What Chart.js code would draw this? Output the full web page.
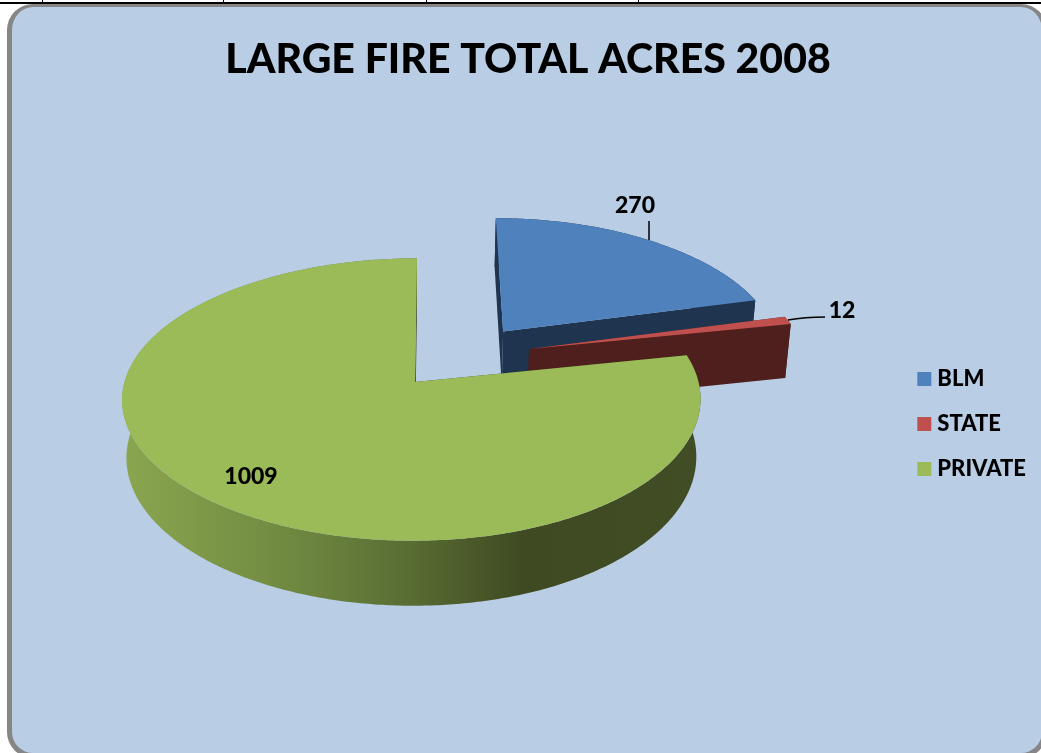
<!DOCTYPE html>
<html>
<head>
<meta charset="utf-8">
<title>Large fire total acres 2008</title>
<script src="https://cdn.jsdelivr.net/npm/chart.js@4"></script>
<style>
  html, body { margin: 0; padding: 0; background: #fff; overflow: hidden; }
  #rule { position: absolute; left: 0; top: 2px; width: 1041px; height: 2px; background: #000; }
  .tick { position: absolute; top: 0; width: 1px; height: 3px; background: #000; }
  #card {
    position: absolute; left: 7px; top: 4px; width: 1040px; height: 754px; box-sizing: border-box;
    background: #b9cde5; border: solid #868686; border-width: 3px 5px 5px 5px; border-radius: 26px;
  }
  #wrap { position: absolute; left: 0; top: 0; width: 1041px; height: 753px; }
</style>
</head>
<body>
<div id="rule"></div>
<div class="tick" style="left:42px"></div>
<div class="tick" style="left:223px"></div>
<div class="tick" style="left:426px"></div>
<div class="tick" style="left:638px"></div>
<div id="card"></div>
<div id="wrap"><canvas id="pie" width="1041" height="753"></canvas></div>
<script>
const categories = ['BLM', 'STATE', 'PRIVATE'];
const acres = [270, 12, 1009];
const topColors = ['#4f81bd', '#c0504d', '#9bbb59'];
const wallColors = ['#1f344f', '#4f1f1e', '#3f4a22'];

// how far each slice is pulled out, in pie radii (right, back)
const explode = [[0.32, 0.38], [0.41, 0.244], [0, 0]];

// tilted view of the pie
const cam = { cx: 415, cy: 382, rx: 287, ry: 139, k: 0.124, skew: 3.5, lean: 2, depth: 57, shrink: 0.015 };

function project(u, v, z) {
    const w = 1 + cam.k * v;
    const x = cam.cx + cam.rx * u / w - cam.skew * Math.min(u * u, 1) + cam.lean * v;
    const y = cam.cy - cam.ry * v / w + cam.depth * z / w;
    return [cam.cx + (x - cam.cx) / (1 + cam.shrink * z), y];
}

function rimPoints(arc, i, z) {
    const [du, dv] = explode[i];
    const pts = [];
    const steps = Math.max(2, Math.ceil((arc.endAngle - arc.startAngle) * 90));
    for (let s = 0; s <= steps; s++) {
        // chart.js angles start at 3 o'clock, rotate so 0 is the top of the pie
        const a = arc.startAngle + (arc.endAngle - arc.startAngle) * s / steps + Math.PI / 2;
        pts.push(project(du + Math.sin(a), dv + Math.cos(a), z));
    }
    return pts;
}

function fillPoly(ctx, pts, fill) {
    ctx.beginPath();
    pts.forEach((p, n) => n ? ctx.lineTo(p[0], p[1]) : ctx.moveTo(p[0], p[1]));
    ctx.closePath();
    ctx.fillStyle = fill;
    ctx.fill();
}

function greenWall(ctx) {
    const g = ctx.createLinearGradient(122, 0, 701, 0);
    g.addColorStop(0, '#8ba650');
    g.addColorStop(0.3, '#6f8840');
    g.addColorStop(0.5, '#586c33');
    g.addColorStop(0.69, '#3f4a22');
    g.addColorStop(1, '#414d25');
    return g;
}

const pie3d = {
    id: 'pie3d',
    beforeDatasetDraw(chart, args) {
        const ctx = chart.ctx;
        const arcs = chart.getDatasetMeta(args.index).data;
        arcs.forEach((arc, i) => {
            const [du, dv] = explode[i];
            const top = rimPoints(arc, i, 0);
            const low = rimPoints(arc, i, 1);
            const wall = i === 2 ? greenWall(ctx) : wallColors[i];
            const apexTop = project(du, dv, 0);
            const apexLow = project(du, dv, 1);
            const last = top.length - 1;
            fillPoly(ctx, [apexTop, top[0], low[0], apexLow], wallColors[i]);
            fillPoly(ctx, [apexTop, top[last], low[last], apexLow], wallColors[i]);
            fillPoly(ctx, top.concat(low.slice().reverse()), wall);
            fillPoly(ctx, [apexTop].concat(top), topColors[i]);
        });
        return false;
    },
    afterDatasetsDraw(chart) {
        const ctx = chart.ctx;
        ctx.save();
        ctx.strokeStyle = '#000';
        ctx.lineWidth = 1.5;
        ctx.beginPath();
        ctx.moveTo(649, 221);
        ctx.lineTo(649, 240);
        ctx.moveTo(788, 320);
        ctx.quadraticCurveTo(805, 317, 825, 317);
        ctx.stroke();
        ctx.fillStyle = '#000';
        ctx.font = '900 23px Lato';
        ctx.textAlign = 'center';
        ctx.textBaseline = 'middle';
        ctx.fillText(acres[0], 635, 206);
        ctx.fillText(acres[1], 842, 311);
        ctx.fillText(acres[2], 251, 477);
        ctx.restore();
    }
};

new Chart(document.getElementById('pie'), {
    type: 'pie',
    data: {
        labels: categories,
        datasets: [{
            data: acres,
            backgroundColor: topColors,
            borderColor: topColors,
            borderWidth: 10
        }]
    },
    options: {
        responsive: false,
        animation: false,
        devicePixelRatio: 1,
        layout: { padding: { left: 20, right: 5, top: 35, bottom: 0 } },
        plugins: {
            title: {
                display: true,
                text: 'LARGE FIRE TOTAL ACRES 2008',
                color: '#000',
                font: { family: 'Lato', size: 41, weight: '900' },
                padding: { top: 0, bottom: 11 }
            },
            legend: {
                position: 'right',
                fullSize: false,
                labels: {
                    color: '#000',
                    font: { family: 'Lato', size: 22, weight: '900' },
                    boxWidth: 4,
                    boxHeight: 4,
                    padding: 23
                }
            },
            tooltip: { enabled: false }
        }
    },
    plugins: [pie3d]
});
</script>
</body>
</html>
